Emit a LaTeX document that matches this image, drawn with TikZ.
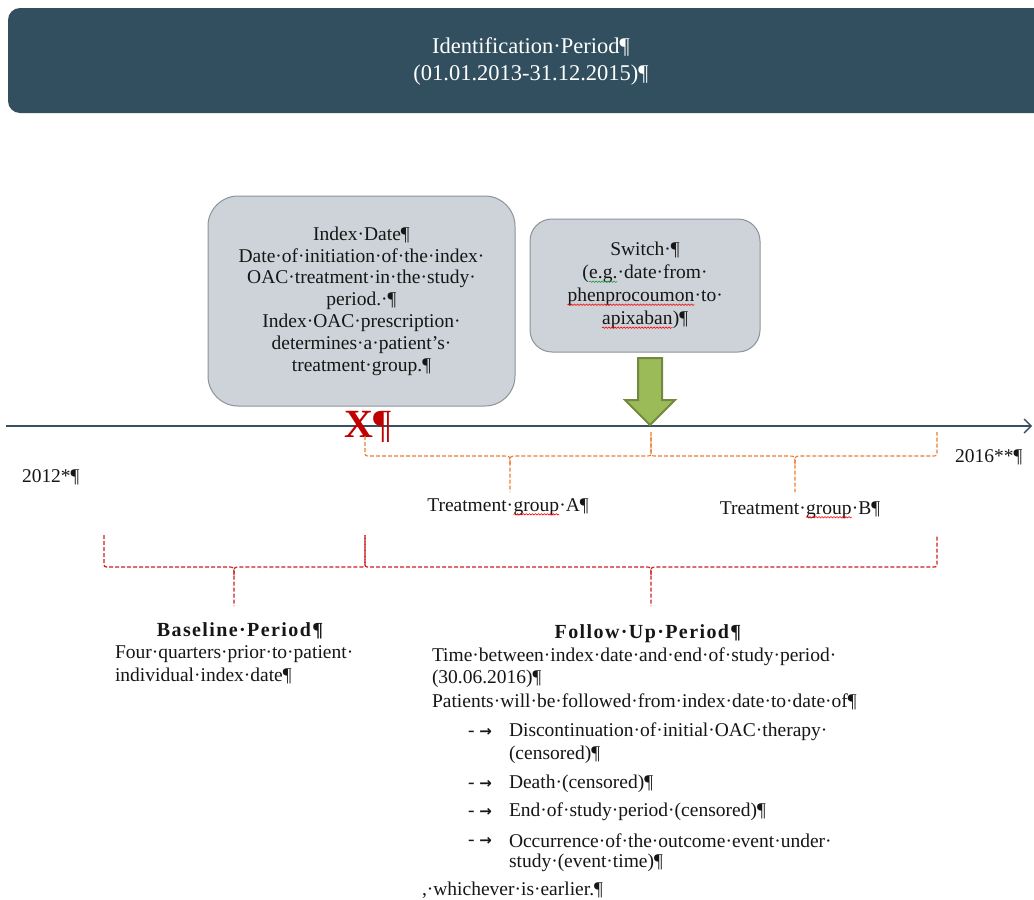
\documentclass[tikz,border=0pt]{standalone}
\usepackage{fontspec}
\setmainfont{Liberation Serif}
\newfontfamily\symfont{DejaVu Sans}
\usetikzlibrary{arrows.meta,decorations.pathmorphing}
\definecolor{slate}{RGB}{50,79,95}
\definecolor{axiscol}{RGB}{58,80,94}
\definecolor{boxfill}{RGB}{205,211,216}
\definecolor{boxdraw}{RGB}{140,148,154}
\definecolor{ogreen}{RGB}{155,187,89}
\definecolor{dgreen}{RGB}{113,137,62}
\definecolor{braceor}{RGB}{237,125,49}
\definecolor{bracered}{RGB}{204,32,36}
\definecolor{xred}{RGB}{192,0,0}
\definecolor{txt}{RGB}{22,22,22}
\definecolor{sqgreen}{RGB}{40,150,60}
% wavy spell-check underline
\newcommand\sqw[2]{\tikz[baseline=(sqn.base)]{\node[draw=none,fill=none,minimum width=0pt,minimum height=0pt,sharp corners,inner sep=0pt,outer sep=0pt](sqn){#2};\draw[#1,sharp corners,line width=0.6pt,decorate,decoration={snake,amplitude=0.7pt,segment length=3pt}]([yshift=-3pt]sqn.base west)--([yshift=-3pt]sqn.base east);}}
% dashed brace: x1 x2 xc ytop yh ybot style
\newcommand\dbrace[7]{%
  \draw[#7] (#1,#4) -- (#1,#5-5) .. controls (#1,#5) .. (#1+5,#5) -- (#3-6,#5) .. controls (#3,#5) .. (#3,#5+8) -- (#3,#6);
  \draw[#7] (#3,#5+8) .. controls (#3,#5) .. (#3+6,#5) -- (#2-5,#5) .. controls (#2,#5) .. (#2,#5-5) -- (#2,#4);}
\tikzset{
  body/.style={font=\fontsize{19.5}{22.5}\selectfont, text=txt, inner sep=0pt, outer sep=0pt},
  head/.style={font=\fontsize{20}{24}\selectfont\bfseries\addfontfeature{LetterSpace=7}, text=txt, inner sep=0pt},
  toptext/.style={font=\fontsize{22.5}{27}\selectfont, text=white, align=center, inner sep=0pt},
  greybox/.style={draw=boxdraw, fill=boxfill, line width=1pt, align=center, font=\fontsize{19.5}{21.8}\selectfont, text=txt},
  orbrace/.style={draw=braceor, line width=1.1pt, dash pattern=on 4pt off 2pt},
  redbrace/.style={draw=bracered, line width=1.2pt, dash pattern=on 4pt off 2pt},
  axisline/.style={draw=axiscol, line width=2.6pt, -{Straight Barb[length=7pt,width=14pt,line width=1.4pt]}},
}
\begin{document}
\begin{tikzpicture}[x=1pt,y=-1pt]
\useasboundingbox (0,0) rectangle (1034,900);
\fill[white] (0,0) rectangle (1034,900);

% identification period bar
\fill[slate, rounded corners=12] (8,8) rectangle (1060,113);
\node[toptext] (idp) at (531,61) {Identification·Period¶\\(01.01.2013-31.12.2015)¶};

% index date box
\node[greybox, rounded corners=30, minimum width=307, minimum height=210] (idx) at (361.5,301)
  {Index·Date¶\\Date·of·initiation·of·the·index·\\OAC·treatment·in·the·study·\\period.·¶\\Index·OAC·prescription·\\determines·a·patient’s·\\treatment·group.¶};

% switch box
\node[greybox, rounded corners=22, minimum width=230, minimum height=133, font=\fontsize{19.5}{23}\selectfont] (sw) at (645,285.5)
  {Switch·¶\\(\sqw{sqgreen}{e.g.}·date·from·\\\sqw{red}{phenprocoumon}·to·\\\sqw{red}{apixaban})¶};

% timeline
\coordinate (tl0) at (6,426);
\coordinate (tl1) at (1032,426);
\draw[axisline] (tl0) -- (tl1);

% green block arrow
\draw[fill=ogreen, draw=dgreen, line width=2pt, line join=miter]
  (638,358) -- (662,358) -- (662,400) -- (675,400) -- (650,425) -- (625,400) -- (638,400) -- cycle;

% index marker
\node[anchor=base west, inner sep=0pt, text=xred, font=\fontsize{40}{40}\selectfont] (xm) at (344,437) {\textbf{X}¶};

% braces
\dbrace{365}{651}{510}{436}{456}{492}{orbrace}
\dbrace{651}{937}{795}{432}{456}{492}{orbrace}
\dbrace{104}{365}{234}{535}{567}{606}{redbrace}
\dbrace{365}{937}{651}{535}{567}{606}{redbrace}

% year labels
\node[body, anchor=base west] (y12) at (22,482) {2012*¶};
\node[body, anchor=base west] (y16) at (955,462) {2016**¶};

% treatment groups
\node[body] (tga) at (508,507) {Treatment·\sqw{red}{group}·A¶};
\node[body] (tgb) at (800,510) {Treatment·\sqw{red}{group}·B¶};

% baseline period
\node[head] (bph) at (240,631) {Baseline·Period¶};
\node[body, anchor=west] (bl1) at (115,654) {Four·quarters·prior·to·patient·};
\node[body, anchor=west] (bl2) at (115,676) {individual·index·date¶};

% follow up period
\node[head] (fuh) at (648,634) {Follow·Up·Period¶};
\node[body, anchor=west] (fu1) at (432,657) {Time·between·index·date·and·end·of·study·period·};
\node[body, anchor=west] (fu2) at (432,679) {(30.06.2016)¶};
\node[body, anchor=west] (fu3) at (432,702) {Patients·will·be·followed·from·index·date·to·date·of¶};
\foreach \yy/\nm in {732/m1, 784/m2, 812/m3, 841/m4}
  \node[body, anchor=west] (\nm) at (468,\yy) {-\hspace{5pt}{\symfont\fontsize{15}{15}\selectfont\bfseries →}};
\node[body, anchor=west] (fb1a) at (509,732) {Discontinuation·of·initial·OAC·therapy·};
\node[body, anchor=west] (fb1b) at (509,755) {(censored)¶};
\node[body, anchor=west] (fb2) at (509,784) {Death·(censored)¶};
\node[body, anchor=west] (fb3) at (509,812) {End·of·study·period·(censored)¶};
\node[body, anchor=west] (fb4a) at (509,841) {Occurrence·of·the·outcome·event·under·};
\node[body, anchor=west] (fb4b) at (509,863) {study·(event·time)¶};
\node[body, anchor=west] (fend) at (422,890) {,·whichever·is·earlier.¶};
\end{tikzpicture}
\end{document}
